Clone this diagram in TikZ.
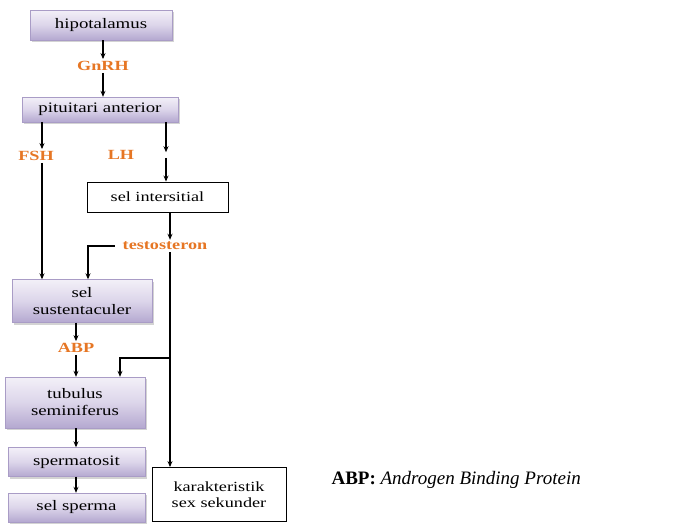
\documentclass[tikz,border=0pt]{standalone}
\usepackage{fontspec}
\setmainfont{Liberation Serif}
\newfontfamily\boxfont[FakeStretch=1.3]{Liberation Serif}
\usetikzlibrary{arrows.meta,shadows}
\definecolor{lavtop}{HTML}{F3F0F8}
\definecolor{lavmid}{HTML}{DCD5EA}
\definecolor{lavbot}{HTML}{B4A8D0}
\definecolor{lavedge}{HTML}{A99CC6}
\definecolor{horange}{RGB}{230,118,36}
\tikzset{
  pbox/.style={rectangle, top color=lavtop, bottom color=lavbot, middle color=lavmid, draw=lavedge, line width=0.4pt,
    drop shadow={opacity=0.35, shadow xshift=2pt, shadow yshift=-2pt},
    minimum width=#1, align=center, inner sep=0pt, font=\boxfont\fontsize{14.5}{17}\selectfont},
  wbox/.style={rectangle, draw=black, line width=0.9pt, fill=white, minimum width=#1, align=center,
    inner sep=0pt, font=\boxfont\fontsize{14}{16}\selectfont},
  hlab/.style={text=horange, font=\boxfont\bfseries\fontsize{14}{15}\selectfont, inner sep=2pt},
  arr/.style={line width=1.1pt, -{Stealth[length=6pt,width=5pt]}},
  ln/.style={line width=1.1pt}
}
\begin{document}
\begin{tikzpicture}[x=1pt,y=-1pt]
\useasboundingbox (0,0) rectangle (681,525);
% boxes
\node[pbox=142pt, minimum height=30pt] (hip) at (101,25) {hipotalamus};
\node[hlab] (gnrh) at (103,66) {GnRH};
\node[pbox=156pt, minimum height=25pt] (pit) at (100,109.5) {pituitari anterior};
\node[hlab] (fsh) at (36,156) {FSH};
\node[hlab] (lh) at (121,155) {LH};
\node[wbox=141pt, minimum height=30pt] (inter) at (157.5,197) {sel intersitial};
\node[hlab] (testo) at (165,246) {testosteron};
\node[pbox=140pt, minimum height=43pt] (sust) at (82,301) {sel\\sustentaculer};
\node[hlab] (abp) at (76,348) {ABP};
\node[pbox=140pt, minimum height=51pt] (tub) at (75,402.5) {tubulus\\seminiferus};
\node[pbox=137pt, minimum height=29pt] (sperm) at (76.5,462) {spermatosit};
\node[pbox=137pt, minimum height=29pt] (selsp) at (76.5,507.5) {sel sperma};
\node[wbox=134pt, minimum height=54pt, font=\boxfont\fontsize{14}{16}\selectfont] (kar) at (219,494.5) {karakteristik\\sex sekunder};
\node[font=\fontsize{19}{22}\selectfont, anchor=west] (leg) at (328,480) {\textbf{ABP:} \textit{Androgen Binding Protein}};
% helper x positions
\coordinate (fx) at (42,0);
\coordinate (lx) at (166,0);
\coordinate (tx) at (170,0);
\coordinate (sx) at (88,0);
\coordinate (bx) at (120,0);
\coordinate (br) at (170,358);
% connectors
\draw[arr] (hip.south -| gnrh) -- (gnrh.north);
\draw[arr] (gnrh.south) -- (pit.north -| gnrh);
\draw[arr] (pit.south -| fx) -- (fsh.north -| fx);
\draw[arr] (fsh.south -| fx) -- (sust.north -| fx);
\draw[arr] (pit.south -| lx) -- ([yshift=-4pt]lh.north -| lx);
\draw[arr] ([yshift=4pt]lh.south -| lx) -- (inter.north -| lx);
\draw[arr] (inter.south -| tx) -- (testo.north -| tx);
\draw[arr] ([xshift=-6pt]testo.west) -| (sust.north -| sx);
\draw[arr] (testo.south -| tx) -- (kar.north -| tx);
\draw[arr] (br) -| (tub.north -| bx);
\draw[arr] (sust.south -| abp) -- (abp.north);
\draw[arr] (abp.south) -- (tub.north -| abp);
\draw[arr] (tub.south -| abp) -- (sperm.north -| abp);
\draw[arr] (sperm.south -| abp) -- (selsp.north -| abp);
\end{tikzpicture}
\end{document}
